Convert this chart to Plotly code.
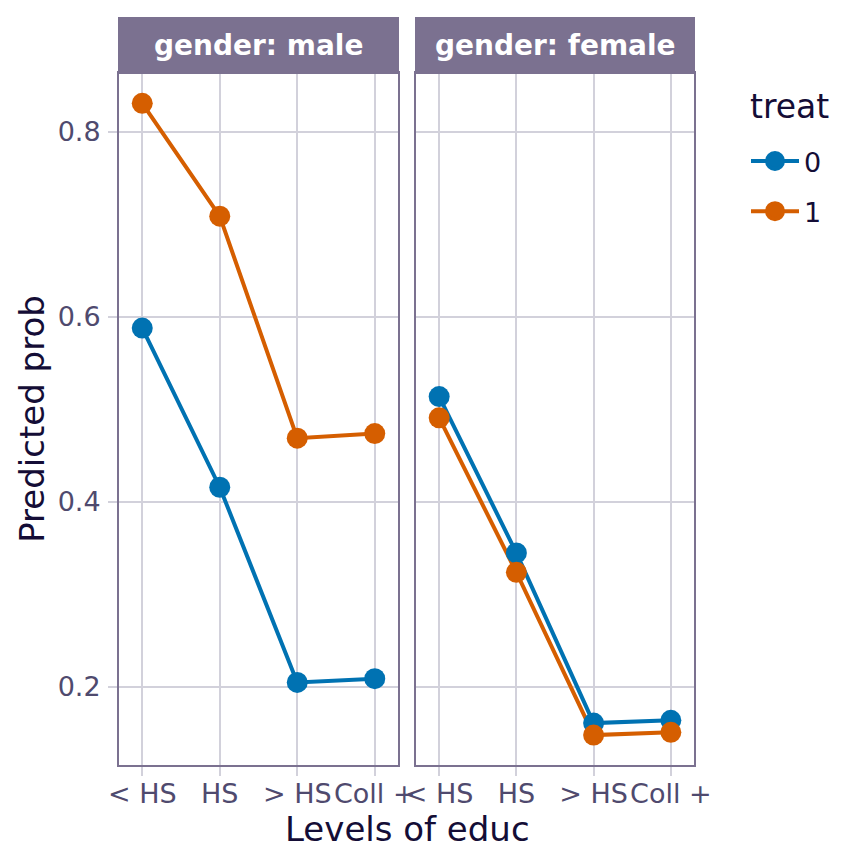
import plotly.graph_objects as go

educ_levels = ["< HS", "HS", "> HS", "Coll +"]
genders = ["male", "female"]
treat_levels = ["0", "1"]
male_treat0 = [0.588, 0.416, 0.205, 0.209]
male_treat1 = [0.831, 0.709, 0.469, 0.474]
female_treat0 = [0.514, 0.345, 0.161, 0.164]
female_treat1 = [0.491, 0.324, 0.148, 0.151]
y_ticks = [0.2, 0.4, 0.6, 0.8]

colors = {"0": "#0072B2", "1": "#D55E00"}
series = {
    ("male", "0"): male_treat0,
    ("male", "1"): male_treat1,
    ("female", "0"): female_treat0,
    ("female", "1"): female_treat1,
}

FONT = "DejaVu Sans"
TICK_COL = "#4f4a6e"
TITLE_COL = "#140d36"
BORDER = "#7b7190"
GRID = "#d2d1db"

x_idx = list(range(1, len(educ_levels) + 1))

fig = go.Figure()
axes = {"male": ("x", "y"), "female": ("x2", "y2")}

# lines first
for g in genders:
    xa, ya = axes[g]
    for t in treat_levels:
        fig.add_trace(go.Scatter(
            x=x_idx, y=series[(g, t)], mode="lines",
            line=dict(color=colors[t], width=4),
            xaxis=xa, yaxis=ya, showlegend=False, hoverinfo="skip"))
# points on top
for g in genders:
    xa, ya = axes[g]
    for t in treat_levels:
        fig.add_trace(go.Scatter(
            x=x_idx, y=series[(g, t)], mode="markers",
            marker=dict(color=colors[t], size=21),
            xaxis=xa, yaxis=ya, showlegend=False))
# legend entries
for t in treat_levels:
    fig.add_trace(go.Scatter(
        x=[None], y=[None], mode="lines+markers", name=t,
        line=dict(color=colors[t], width=4),
        marker=dict(color=colors[t], size=21, line=dict(color=colors[t], width=4)),
        legendgroup=t, showlegend=True))

OFF = 7  # page body offset
W, H = 864, 865
L, T = 118 - OFF, 17 - OFF
R = W - (693 - OFF)
B = H - (764 - OFF)
pw = W - L - R
ph = H - T - B


def px_x(v):
    return (v - OFF - L) / pw


def px_y(v):
    return 1 - (v - OFF - T) / ph


x1_end = (397 - 118) / pw
x2_start = (415 - 118) / pw
y_top = (764 - 72) / ph

xcommon = dict(
    range=[0.7, 4.3], tickmode="array", tickvals=x_idx, ticktext=educ_levels,
    showgrid=True, gridcolor=GRID, gridwidth=1.6,
    ticks="outside", ticklen=9, tickcolor=GRID, tickwidth=1.6,
    showline=True, linecolor=BORDER, linewidth=2, mirror=True,
    zeroline=False, tickfont=dict(family=FONT, size=27, color=TICK_COL),
    automargin=False, ticklabelstandoff=-5,
)
ycommon = dict(
    range=[0.1157, 0.8638], tickmode="array", tickvals=y_ticks,
    ticktext=[f"{v:.1f}" for v in y_ticks],
    showgrid=True, gridcolor=GRID, gridwidth=1.6,
    showline=True, linecolor=BORDER, linewidth=2, mirror=True,
    zeroline=False, tickfont=dict(family=FONT, size=27, color=TICK_COL),
    domain=[0, y_top], automargin=False,
)

fig.update_layout(
    width=W, height=H,
    margin=dict(l=L, r=R, t=T, b=B, autoexpand=False),
    plot_bgcolor="white", paper_bgcolor="white",
    font=dict(family=FONT, color=TITLE_COL),
    xaxis=dict(**xcommon, domain=[0, x1_end], anchor="y"),
    xaxis2=dict(**xcommon, domain=[x2_start, 1], anchor="y2"),
    yaxis=dict(**ycommon, anchor="x", ticks="outside", ticklen=9,
               tickcolor=GRID, tickwidth=1.6, ticklabelstandoff=2,
               title=dict(text="Predicted prob", standoff=3,
                          font=dict(family=FONT, size=34, color=TITLE_COL))),
    yaxis2=dict(**ycommon, anchor="x2", matches="y", showticklabels=False, ticks=""),
    legend=dict(
        x=px_x(745), xanchor="left", y=px_y(136), yanchor="top",
        font=dict(family=FONT, size=27, color=TITLE_COL),
        tracegroupgap=12, traceorder="grouped", itemwidth=48,
        bgcolor="rgba(0,0,0,0)",
    ),
)

fig.add_annotation(x=px_x(747), y=px_y(105), xref="paper", yref="paper",
                   text="treat", showarrow=False, xanchor="left", yanchor="middle",
                   font=dict(family=FONT, size=33, color=TITLE_COL))

strip_labels = [f"gender: {g}" for g in genders]
for (x0, x1), lab in zip([(0, x1_end), (x2_start, 1)], strip_labels):
    fig.add_shape(type="rect", xref="paper", yref="paper", x0=x0, x1=x1,
                  y0=y_top, y1=1, fillcolor=BORDER, line=dict(color=BORDER, width=2),
                  layer="above")
    fig.add_annotation(x=(x0 + x1) / 2, y=(y_top + 1) / 2, xref="paper", yref="paper",
                       xanchor="center", yanchor="middle",
                       text=f"<b>{lab}</b>", showarrow=False,
                       font=dict(family=FONT, size=28, color="white"))

fig.add_annotation(x=(x1_end + x2_start) / 2, y=px_y(828), xref="paper", yref="paper",
                   text="Levels of educ", showarrow=False, xanchor="center", yanchor="middle",
                   font=dict(family=FONT, size=34, color=TITLE_COL))

fig.write_html("out.html")
